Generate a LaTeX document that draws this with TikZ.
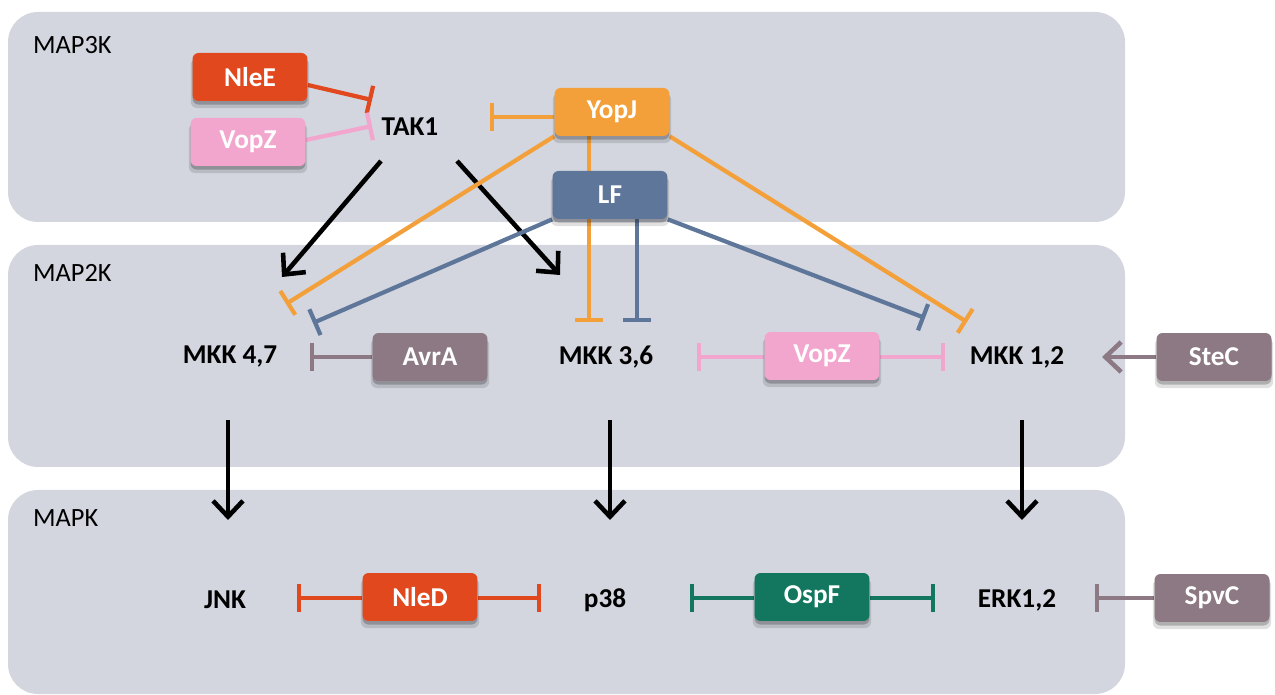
\documentclass[tikz,border=0pt]{standalone}
\usepackage{fontspec}
\setmainfont{Carlito}
\usetikzlibrary{arrows.meta,shadows,calc}
\pgfdeclarelayer{panel}
\pgfdeclarelayer{wires}
\pgfsetlayers{panel,wires,main}
\definecolor{panelc}{HTML}{D3D6DF}
\definecolor{nlec}{HTML}{E2481E}
\definecolor{vopc}{HTML}{F2A6CD}
\definecolor{yopc}{HTML}{F3A03A}
\definecolor{lfc}{HTML}{5E7699}
\definecolor{mauvec}{HTML}{8C7983}
\definecolor{ospc}{HTML}{13775F}
\tikzset{
  eff/.style={rounded corners=0.12cm, minimum width=2.3cm, minimum height=0.96cm,
    text=white, font=\fontsize{15.5}{18}\selectfont\bfseries,
    general shadow={shadow xshift=0pt, shadow yshift=-3.5pt, shadow scale=1.03, fill=black, opacity=0.12},
    general shadow={shadow xshift=0pt, shadow yshift=-2pt, fill=black, opacity=0.22}},
  kin/.style={font=\fontsize{15.5}{18}\selectfont\bfseries},
  lvl/.style={font=\fontsize{15}{18}\selectfont, anchor=west},
  panelbox/.style={fill=panelc, rounded corners=0.6cm},
  inh/.style={line width=2.4pt, -{Bar[width=16pt,line width=2.4pt]}},
  act/.style={line width=2.6pt, -{Straight Barb[length=9pt,width=17pt,line width=2.6pt]}}
}
\begin{document}
\begin{tikzpicture}[x=0.02cm,y=-0.02cm]
\useasboundingbox (0,0) rectangle (1275,695);
\begin{pgfonlayer}{panel}
\fill[panelbox] (8,12) rectangle (1125,222);
\fill[panelbox] (8,245) rectangle (1125,467);
\fill[panelbox] (8,490) rectangle (1125,694);
\end{pgfonlayer}
\node[lvl] (l3) at (27,45) {MAP3K};
\node[lvl] (l2) at (27,273) {MAP2K};
\node[lvl] (l1) at (27,518) {MAPK};
% nodes
\node[kin] (tak1) at (410,127) {TAK1};
\node[eff, fill=nlec] (nlee) at (250,77) {NleE};
\node[eff, fill=vopc] (vopz1) at (248,142) {VopZ};
\node[eff, fill=yopc] (yopj) at (612,112) {YopJ};
\node[eff, fill=lfc] (lf) at (610,195) {LF};
\node[kin] (mkk47) at (230,357) {MKK 4,7};
\node[eff, fill=mauvec] (avra) at (430,357) {AvrA};
\node[kin] (mkk36) at (606,357) {MKK 3,6};
\node[eff, fill=vopc] (vopz2) at (822,356) {VopZ};
\node[kin] (mkk12) at (1017,357) {MKK 1,2};
\node[eff, fill=mauvec] (stec) at (1214,357) {SteC};
\node[kin] (jnk) at (225,600) {JNK};
\node[eff, fill=nlec] (nled) at (420,597) {NleD};
\node[kin] (p38) at (605,600) {p38};
\node[eff, fill=ospc] (ospf) at (812,597) {OspF};
\node[kin] (erk) at (1017,600) {ERK1,2};
\node[eff, fill=mauvec] (spvc) at (1212,598) {SpvC};
% coordinates
\coordinate (b1) at (372,100);
\coordinate (b2) at (372,126);
\coordinate (b3) at (490,117);
\coordinate (a1) at (282,277);
\coordinate (a2) at (560,275);
\coordinate (o47) at (286,304);
\coordinate (o36) at (589,322);
\coordinate (o12) at (967,322);
\coordinate (l47) at (313,323);
\coordinate (l36) at (637,322);
\coordinate (l12) at (925,318);
\coordinate (av) at (310,357);
\coordinate (vz1) at (697,357);
\coordinate (vz2) at (945,357);
\coordinate (st) at (1102,357);
\coordinate (j1) at (228,520);
\coordinate (j2) at (610,520);
\coordinate (j3) at (1022,520);
\coordinate (nd1) at (297,598);
\coordinate (nd2) at (541,598);
\coordinate (of1) at (690,598);
\coordinate (of2) at (935,598);
\coordinate (sp) at (1095,598);
\begin{pgfonlayer}{wires}
\draw[inh, nlec] ($(nlee.east)+(0,8)$) -- (b1);
\draw[inh, vopc] ($(vopz1.east)+(0,-2)$) -- (b2);
\draw[inh, yopc] (yopj.west |- b3) -- (b3);
\draw[act] ($(tak1)+(-29,34)$) -- (a1);
\draw[act] ($(tak1)+(47,34)$) -- (a2);
\draw[inh, yopc] (yopj.south west) -- (o47);
\draw[inh, yopc] (yopj.south -| o36) -- (o36);
\draw[inh, yopc] (yopj.south east) -- (o12);
\draw[inh, lfc] (lf.south west) -- (l47);
\draw[inh, lfc] (lf.south -| l36) -- (l36);
\draw[inh, lfc] (lf.south east) -- (l12);
\draw[inh, mauvec] (avra.west) -- (av);
\draw[inh, vopc] (vopz2.west |- vz1) -- (vz1);
\draw[inh, vopc] (vopz2.east |- vz2) -- (vz2);
\draw[act, mauvec] (stec.west) -- (st);
\draw[act] ($(mkk47.south -| j1)+(0,46)$) -- (j1);
\draw[act] ($(mkk36.south -| j2)+(0,46)$) -- (j2);
\draw[act] ($(mkk12.south -| j3)+(0,46)$) -- (j3);
\draw[inh, nlec] (nled.west |- nd1) -- (nd1);
\draw[inh, nlec] (nled.east |- nd2) -- (nd2);
\draw[inh, ospc] (ospf.west |- of1) -- (of1);
\draw[inh, ospc] (ospf.east |- of2) -- (of2);
\draw[inh, mauvec] (spvc.west |- sp) -- (sp);
\end{pgfonlayer}
\end{tikzpicture}
\end{document}
